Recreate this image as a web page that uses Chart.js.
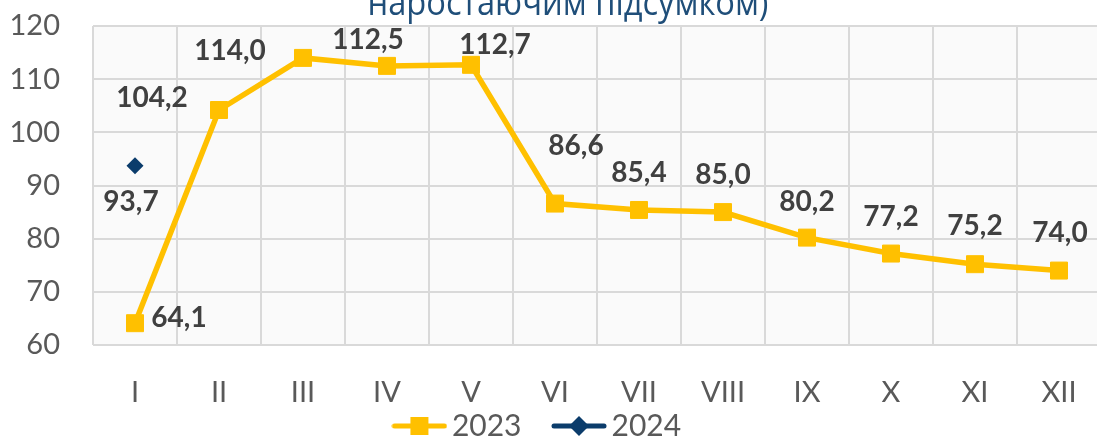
<!DOCTYPE html>
<html><head><meta charset="utf-8">
<script src="https://cdn.jsdelivr.net/npm/chart.js@4.4.1/dist/chart.umd.min.js"></script>
<style>
html,body{margin:0;padding:0;background:#fff;overflow:hidden;width:1097px;height:437px}
#wrap{position:relative;width:1101px;height:437px}
</style>
</head><body><div id="wrap"><canvas id="c" width="1101" height="437"></canvas></div>
<script>
const categories = ['I','II','III','IV','V','VI','VII','VIII','IX','X','XI','XII'];
const values2023 = [64.1,104.2,114.0,112.5,112.7,86.6,85.4,85.0,80.2,77.2,75.2,74.0];
const values2024 = [93.7,null,null,null,null,null,null,null,null,null,null,null];
const seriesNames = ['2023','2024'];
const yMin = 60, yMax = 120, yStep = 10;
const titleText = 'наростаючим підсумком)';

const COL23 = '#FFC000', COL24 = '#0B3C6B';
const FONT = 'Lato, "Open Sans", sans-serif';
const fmt = v => v.toFixed(1).replace('.', ',');

// label offsets (style: pixel offsets from the point to the label's cap-centre)
const labelOffsets = [
  [[44,-6],[-67,-13],[-73,-8],[-19,-27],[24,-21],[21,-59],[0,-38],[0,-38],[0,-37],[0,-38],[0,-39],[1,-39]],
  [[-4,35]]
];

function legendImg(color, shape){
  const c = document.createElement('canvas');
  c.width = 56; c.height = 22;
  const g = c.getContext('2d');
  g.strokeStyle = color; g.lineWidth = 5; g.lineCap = 'round';
  g.beginPath(); g.moveTo(3,11); g.lineTo(53,11); g.stroke();
  g.fillStyle = color;
  if (shape === 'rect') { g.fillRect(19,2,18,18); }
  else { g.beginPath(); g.moveTo(28,1); g.lineTo(38,11); g.lineTo(28,21); g.lineTo(18,11); g.closePath(); g.fill(); }
  return c;
}
const legendImages = [legendImg(COL23,'rect'), legendImg(COL24,'diamond')];

const plotBg = {
  id:'plotBg',
  beforeDraw(chart){
    const {ctx, chartArea:a} = chart;
    ctx.save(); ctx.fillStyle = '#FAFAFA';
    ctx.fillRect(a.left, a.top, a.right-a.left, a.bottom-a.top);
    ctx.restore();
  }
};
const titlePlugin = {
  id:'cutTitle',
  afterDraw(chart){
    const ctx = chart.ctx;
    ctx.save();
    ctx.font = '36px "Open Sans", sans-serif';
    ctx.fillStyle = '#1F4E79';
    ctx.textAlign = 'center'; ctx.textBaseline = 'alphabetic';
    ctx.fillText(titleText, 568, 15, 401);
    ctx.restore();
  }
};
const dataLabels = {
  id:'dataLabels',
  afterDatasetsDraw(chart){
    const ctx = chart.ctx;
    ctx.save();
    ctx.font = 'bold 28px ' + FONT;
    ctx.fillStyle = '#404040';
    ctx.textAlign = 'center'; ctx.textBaseline = 'alphabetic';
    chart.data.datasets.forEach((ds, di) => {
      const meta = chart.getDatasetMeta(di);
      ds.data.forEach((v, i) => {
        if (v === null) return;
        const p = meta.data[i];
        const off = labelOffsets[di][i] || [0,-30];
        ctx.fillText(fmt(v), p.x + off[0], p.y + off[1] + 10);
      });
    });
    ctx.restore();
  }
};
const layoutTweak = {
  id:'layoutTweak',
  afterLayout(chart){
    const l = chart.legend;
    if (l) { l.top += 14; l.bottom += 14; l.left -= 9; l.right -= 9; }
    const x = chart.scales.x;
    if (x) { x.bottom = x.top + 70; }
  }
};

new Chart(document.getElementById('c'), {
  type:'line',
  data:{
    labels: categories,
    datasets:[
      {label: seriesNames[0], data: values2023, borderColor: COL23, backgroundColor: COL23,
       borderWidth: 5.5, pointStyle:'rect', pointRadius: 12, pointHoverRadius: 12,
       pointBackgroundColor: COL23, pointBorderColor: COL23, pointBorderWidth: 1, tension: 0},
      {label: seriesNames[1], data: values2024, borderColor: COL24, backgroundColor: COL24,
       borderWidth: 5, pointStyle:'rectRot', pointRadius: 8.5, pointHoverRadius: 8.5,
       pointBackgroundColor: COL24, pointBorderColor: COL24, pointBorderWidth: 0}
    ]
  },
  options:{
    responsive:false, animation:false, devicePixelRatio:1,
    layout:{autoPadding:false, padding:{top:26, left:0, right:0, bottom:0}},
    plugins:{
      title:{display:false},
      tooltip:{enabled:false},
      legend:{
        position:'bottom',
        labels:{
          usePointStyle:true, pointStyleWidth:35, padding:40,
          color:'#595959', font:{family:FONT, size:30},
          generateLabels(chart){
            return chart.data.datasets.map((ds,i)=>({
              text: ds.label, pointStyle: legendImages[i], fillStyle: ds.borderColor,
              strokeStyle: ds.borderColor, lineWidth: 0, hidden:false, datasetIndex:i,
              fontColor:'#595959'
            }));
          }
        }
      }
    },
    scales:{
      x:{
        offset:true,
        grid:{offset:true, color:'#D9D9D9', lineWidth:2, drawTicks:false},
        border:{display:false},
        ticks:{color:'#595959', font:{family:FONT, size:29}, padding:30, maxRotation:0, autoSkip:false},
        afterFit(s){ s.height = 12; s.paddingLeft = 0; s.paddingRight = 0; }
      },
      y:{
        min:yMin, max:yMax,
        grid:{color:'#D9D9D9', lineWidth:2, drawTicks:false},
        border:{display:false},
        ticks:{stepSize:yStep, color:'#595959', font:{family:FONT, size:29}, padding:33},
        afterFit(s){ s.width = 93; s.paddingTop = 0; s.paddingBottom = 0; }
      }
    }
  },
  plugins:[plotBg, dataLabels, titlePlugin, layoutTweak]
});
</script>
</body></html>
